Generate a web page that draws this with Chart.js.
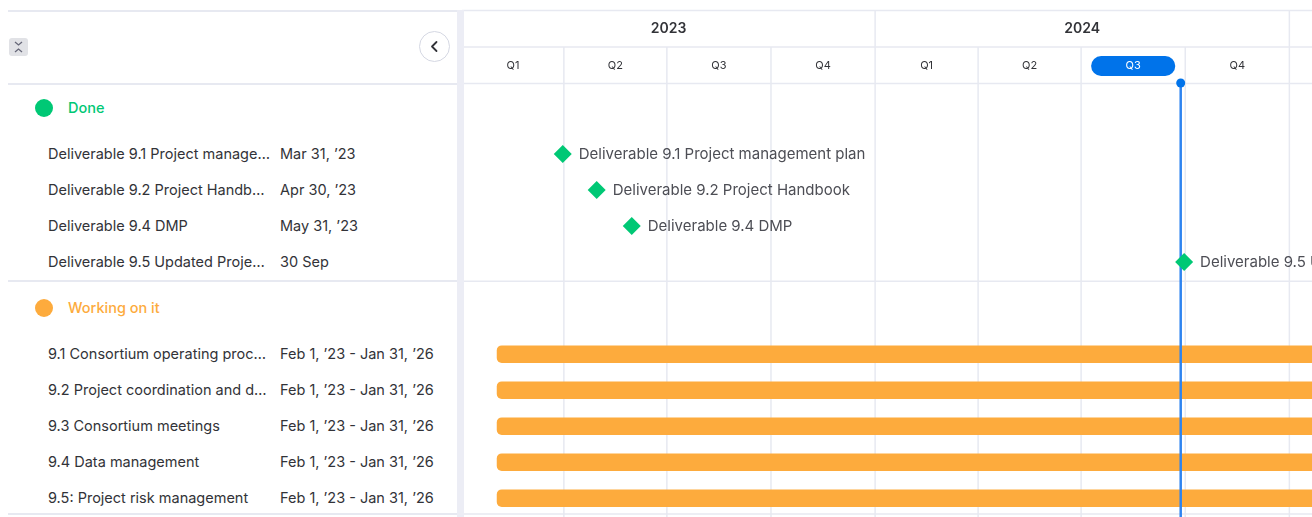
<!DOCTYPE html>
<html lang="en">
<head>
  <meta charset="UTF-8" />
  <title>Deliverables timeline</title>
  <script src="https://cdn.jsdelivr.net/npm/chart.js"></script>
  <style>
    body { margin: 0; background: #fff; font-family: Inter, "Noto Sans", sans-serif; color: #323338; }
    #board { position: relative; width: 1312px; height: 517px; overflow: hidden; }
    #timeline { position: absolute; left: 462px; top: 0; width: 850px; height: 517px; }
    #side { position: absolute; left: 0; top: 0; width: 458px; height: 517px; }
    .hline { position: absolute; left: 8px; width: 450px; height: 1.5px; background: #e7e9f1; }
    .split { position: absolute; left: 457px; top: 10px; width: 7px; height: 507px; background: #ecedf5; z-index: 2; }
    .group { position: absolute; left: 35px; height: 20px; line-height: 20px; font-size: 14.5px; font-weight: 500; }
    .group i { display: inline-block; width: 18px; height: 18px; border-radius: 50%; vertical-align: -4px; margin-right: 15px; }
    .name, .date { position: absolute; height: 20px; line-height: 20px; font-size: 14.5px; white-space: nowrap; }
    .name { left: 48px; width: 222px; overflow: hidden; text-overflow: ellipsis; }
    .date { left: 280px; }
    .collapse { position: absolute; left: 9px; top: 38px; width: 19px; height: 18px; border-radius: 3px; background: #e1e2e6; }
    .back { position: absolute; left: 419px; top: 31px; width: 31px; height: 31px; border-radius: 50%; border: 1px solid #d5d8e3; box-sizing: border-box; background: #fff; }
  </style>
</head>
<body>
  <div id="board">
    <div id="side">
      <div class="hline" style="top:10px"></div>
      <div class="hline" style="top:83px"></div>
      <div class="collapse">
        <svg width="19" height="18" viewBox="0 0 19 18"><path d="M6 4l3.5 3 3.5-3M6 14l3.5-3 3.5 3" fill="none" stroke="#676879" stroke-width="1.3"/></svg>
      </div>
      <div class="back">
        <svg width="29" height="29" viewBox="0 0 29 29"><path d="M16.5 10l-4.5 4.5 4.5 4.5" fill="none" stroke="#323338" stroke-width="1.8" stroke-linecap="round" stroke-linejoin="round"/></svg>
      </div>
    </div>
    <div class="split"></div>
    <div id="timeline"><canvas id="ganttChart"></canvas></div>
  </div>

  <script>
    // Done group (milestones)
    const doneNames = [
      'Deliverable 9.1 Project management plan',
      'Deliverable 9.2 Project Handbook',
      'Deliverable 9.4 DMP',
      'Deliverable 9.5 Updated Project Handbook'
    ];
    const doneDates = ['2023-03-31', '2023-04-30', '2023-05-31', '2024-09-30'];
    const doneDateLabels = ['Mar 31, ’23', 'Apr 30, ’23', 'May 31, ’23', '30 Sep'];

    // Working on it group (date ranges)
    const workingNames = [
      '9.1 Consortium operating procedures',
      '9.2 Project coordination and day-to-day management',
      '9.3 Consortium meetings',
      '9.4 Data management',
      '9.5: Project risk management'
    ];
    const workingStarts = ['2023-02-01', '2023-02-01', '2023-02-01', '2023-02-01', '2023-02-01'];
    const workingEnds = ['2026-01-31', '2026-01-31', '2026-01-31', '2026-01-31', '2026-01-31'];
    const workingDateLabels = [
      'Feb 1, ’23 - Jan 31, ’26',
      'Feb 1, ’23 - Jan 31, ’26',
      'Feb 1, ’23 - Jan 31, ’26',
      'Feb 1, ’23 - Jan 31, ’26',
      'Feb 1, ’23 - Jan 31, ’26'
    ];

    const years = [2023, 2024, 2025];
    const quarterLabels = ['Q1', 'Q2', 'Q3', 'Q4'];
    const today = '2024-09-27';

    const GREEN = '#00c875';
    const ORANGE = '#fdab3d';
    const BLUE = '#0073ea';
    const GRID = '#e7e9f1';

    const origin = Date.UTC(2023, 0, 1);
    function day(iso) {
      const p = iso.split('-').map(Number);
      return (Date.UTC(p[0], p[1] - 1, p[2]) - origin) / 864e5;
    }

    // row layout, in units of 36px rows
    const ROW = 36;
    const doneHeader = 3;
    const doneRows = doneNames.map((_, i) => doneHeader + 1.28 + i);
    const groupLine = doneRows[doneRows.length - 1] + 0.53;
    const workHeader = doneRows[doneRows.length - 1] + 1.28;
    const workRows = workingNames.map((_, i) => workHeader + 1.28 + i);

    const chrome = {
      id: 'chrome',
      beforeDatasetsDraw(chart) {
        const { ctx, scales: { x, y }, width, height } = chart;
        ctx.save();
        ctx.lineWidth = 1.5;
        ctx.strokeStyle = GRID;
        const hl = yy => { ctx.beginPath(); ctx.moveTo(0, yy); ctx.lineTo(width, yy); ctx.stroke(); };
        [10.5, 47, 83.5, y.getPixelForValue(groupLine), 514].forEach(hl);

        const todayDay = day(today);
        years.forEach(yr => {
          const x0 = x.getPixelForValue(day(yr + '-01-01'));
          const x1 = x.getPixelForValue(day((yr + 1) + '-01-01'));
          if (x0 > 2) { ctx.beginPath(); ctx.moveTo(x0, 10); ctx.lineTo(x0, height); ctx.stroke(); }
          ctx.fillStyle = '#323338';
          ctx.font = '600 14px Inter';
          ctx.textAlign = 'center';
          ctx.textBaseline = 'middle';
          ctx.fillText(String(yr), (x0 + x1) / 2, 29);
          quarterLabels.forEach((q, qi) => {
            const m0 = String(qi * 3 + 1).padStart(2, '0');
            const d0 = day(yr + '-' + m0 + '-01');
            const d1 = qi === 3 ? day((yr + 1) + '-01-01') : day(yr + '-' + String(qi * 3 + 4).padStart(2, '0') + '-01');
            const q0 = x.getPixelForValue(d0), q1 = x.getPixelForValue(d1);
            if (qi > 0) { ctx.strokeStyle = GRID; ctx.beginPath(); ctx.moveTo(q0, 47); ctx.lineTo(q0, height); ctx.stroke(); }
            const current = todayDay >= d0 && todayDay < d1;
            if (current) {
              ctx.fillStyle = BLUE;
              ctx.beginPath();
              ctx.roundRect(q0 + 10, 56, q1 - q0 - 20, 20, 10);
              ctx.fill();
            }
            ctx.fillStyle = current ? '#fff' : '#323338';
            ctx.font = '400 11px Inter';
            ctx.fillText(q, (q0 + q1) / 2, 66);
          });
        });
        ctx.restore();
      },
      afterDatasetDraw(chart, args) {
        if (args.index !== 1) return;
        const { ctx, scales: { x }, height } = chart;
        const tx = x.getPixelForValue(day(today));
        ctx.save();
        ctx.strokeStyle = '#2e84f0';
        ctx.lineWidth = 2.5;
        ctx.beginPath(); ctx.moveTo(tx, 83); ctx.lineTo(tx, height); ctx.stroke();
        ctx.fillStyle = BLUE;
        ctx.beginPath(); ctx.arc(tx, 83, 4.5, 0, Math.PI * 2); ctx.fill();
        ctx.restore();
      },
      afterDraw(chart) {
        const { ctx } = chart;
        const meta = chart.getDatasetMeta(0);
        ctx.save();
        ctx.fillStyle = '#4d4e55';
        ctx.font = '400 15px Inter';
        ctx.textAlign = 'left';
        ctx.textBaseline = 'middle';
        meta.data.forEach((pt, i) => ctx.fillText(doneNames[i], pt.x + 16, pt.y));
        ctx.restore();
      }
    };

    const chart = new Chart(document.getElementById('ganttChart'), {
      type: 'bar',
      data: {
        datasets: [
          {
            type: 'scatter',
            indexAxis: 'x',
            data: doneDates.map((d, i) => ({ x: day(d), y: doneRows[i] })),
            pointStyle: 'rectRot',
            pointRadius: 9,
            backgroundColor: GREEN,
            borderWidth: 0,
            order: 1
          },
          {
            type: 'bar',
            indexAxis: 'y',
            data: workingStarts.map((s, i) => ({ y: workRows[i], x: [day(s), day(workingEnds[i])] })),
            backgroundColor: ORANGE,
            borderRadius: 5,
            borderSkipped: false,
            barThickness: 17,
            order: 2
          }
        ]
      },
      options: {
        indexAxis: 'y',
        responsive: true,
        maintainAspectRatio: false,
        animation: false,
        events: [],
        layout: { padding: 0, autoPadding: false },
        scales: {
          x: { type: 'linear', display: false, offset: false, grid: { offset: false }, min: 0, max: 751 },
          y: { type: 'linear', display: false, offset: false, grid: { offset: false }, reverse: true, min: 0, max: 517 / ROW }
        },
        plugins: { legend: { display: false }, tooltip: { enabled: false } }
      },
      plugins: [chrome]
    });

    // left panel, placed with the chart's own y scale
    const side = document.getElementById('side');
    const yPx = v => chart.scales.y.getPixelForValue(v);
    function addText(cls, text, v, style) {
      const el = document.createElement('div');
      el.className = cls;
      el.style.top = (yPx(v) - 10) + 'px';
      if (style) el.setAttribute('style', el.getAttribute('style') + ';' + style);
      el.innerHTML = text;
      side.appendChild(el);
    }
    addText('group', '<i style="background:' + GREEN + '"></i>Done', doneHeader, 'color:' + GREEN);
    doneNames.forEach((n, i) => { addText('name', n, doneRows[i]); addText('date', doneDateLabels[i], doneRows[i]); });
    addText('group', '<i style="background:' + ORANGE + '"></i>Working on it', workHeader, 'color:' + ORANGE);
    workingNames.forEach((n, i) => { addText('name', n, workRows[i]); addText('date', workingDateLabels[i], workRows[i]); });
    const gl = document.createElement('div');
    gl.className = 'hline';
    gl.style.top = (yPx(groupLine) - 0.75) + 'px';
    side.appendChild(gl);
    const bl = document.createElement('div');
    bl.className = 'hline';
    bl.style.top = '513px';
    side.appendChild(bl);
  </script>
</body>
</html>
